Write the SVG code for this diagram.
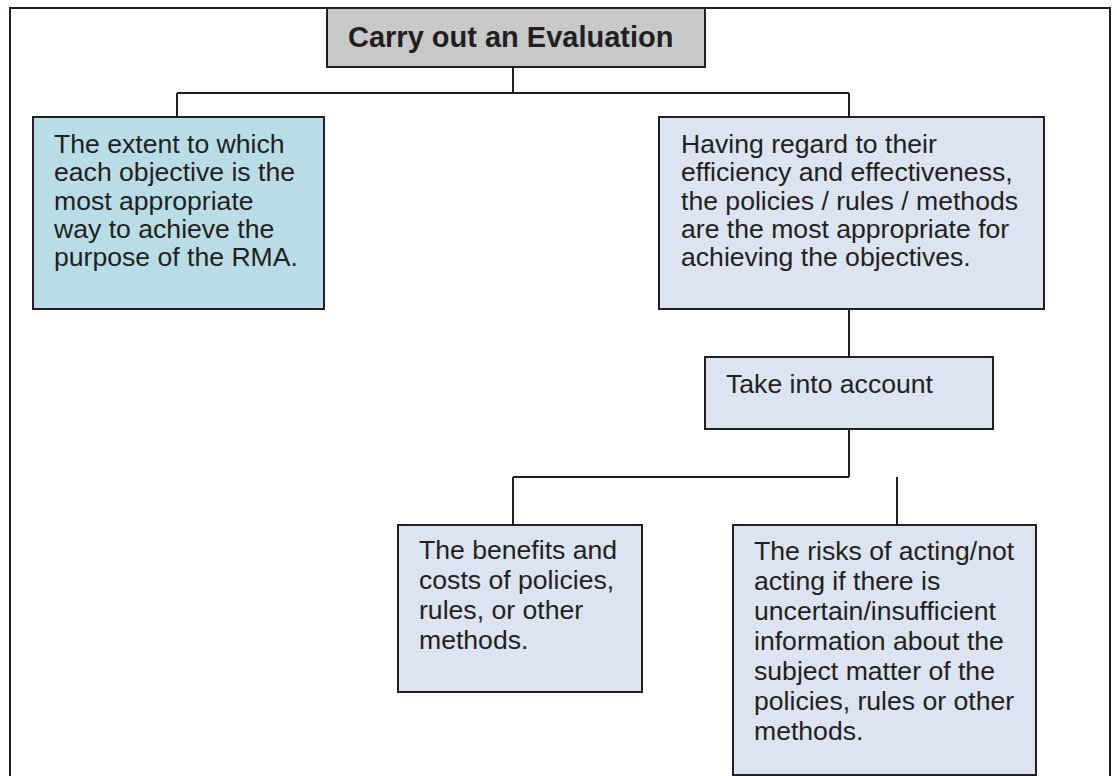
<svg xmlns="http://www.w3.org/2000/svg" width="1117" height="776" viewBox="0 0 1117 776">
<style>
  .box { stroke: #231f20; stroke-width: 2; }
  .title { fill: #c7c8ca; }
  .teal { fill: #b9dde6; }
  .pale { fill: #dbe4f0; }
  .conn { stroke: #231f20; stroke-width: 2; fill: none; }
  text { font-family: "Liberation Sans", Arial, sans-serif; fill: #231f20; }
  .t { font-size: 26.6px; }
  .h { font-size: 29px; font-weight: bold; }
</style>
<rect width="1117" height="776" fill="#ffffff"/>
<path id="frame" d="M10,777 V8 H1110 V777" fill="none" stroke="#231f20" stroke-width="2"/>
<g id="connectors">
  <path class="conn" d="M513,67 V93 M177,93 H849 M177,93 V117 M849,93 V117"/>
  <path class="conn" d="M849,309 V357 M849,429 V477 M513,477 H849 M513,477 V525 M897,477 V525"/>
</g>
<g id="n-title">
  <rect class="box title" x="327" y="8" width="378" height="59"/>
  <text class="h" x="348" y="47">Carry out an Evaluation</text>
</g>
<g id="n-extent">
  <rect class="box teal" x="33" y="117" width="291" height="192"/>
  <text class="t" x="54" y="153">
    <tspan x="54" y="153">The extent to which</tspan>
    <tspan x="54" y="181.3">each objective is the</tspan>
    <tspan x="54" y="209.6">most appropriate</tspan>
    <tspan x="54" y="237.9">way to achieve the</tspan>
    <tspan x="54" y="266.2">purpose of the RMA.</tspan>
  </text>
</g>
<g id="n-regard">
  <rect class="box pale" x="659" y="117" width="385" height="192"/>
  <text class="t" x="681" y="153">
    <tspan x="681" y="153">Having regard to their</tspan>
    <tspan x="681" y="181.3">efficiency and effectiveness,</tspan>
    <tspan x="681" y="209.6">the policies / rules / methods</tspan>
    <tspan x="681" y="237.9">are the most appropriate for</tspan>
    <tspan x="681" y="266.2">achieving the objectives.</tspan>
  </text>
</g>
<g id="n-take">
  <rect class="box pale" x="705" y="357" width="288" height="72"/>
  <text class="t" x="726" y="393">Take into account</text>
</g>
<g id="n-benefits">
  <rect class="box pale" x="398" y="525" width="244" height="167"/>
  <text class="t" x="419" y="559">
    <tspan x="419" y="559">The benefits and</tspan>
    <tspan x="419" y="589">costs of policies,</tspan>
    <tspan x="419" y="619">rules, or other</tspan>
    <tspan x="419" y="649">methods.</tspan>
  </text>
</g>
<g id="n-risks">
  <rect class="box pale" x="733" y="525" width="303" height="250"/>
  <text class="t" x="754" y="560">
    <tspan x="754" y="560">The risks of acting/not</tspan>
    <tspan x="754" y="590">acting if there is</tspan>
    <tspan x="754" y="620">uncertain/insufficient</tspan>
    <tspan x="754" y="650">information about the</tspan>
    <tspan x="754" y="680">subject matter of the</tspan>
    <tspan x="754" y="710">policies, rules or other</tspan>
    <tspan x="754" y="740">methods.</tspan>
  </text>
</g>
</svg>
